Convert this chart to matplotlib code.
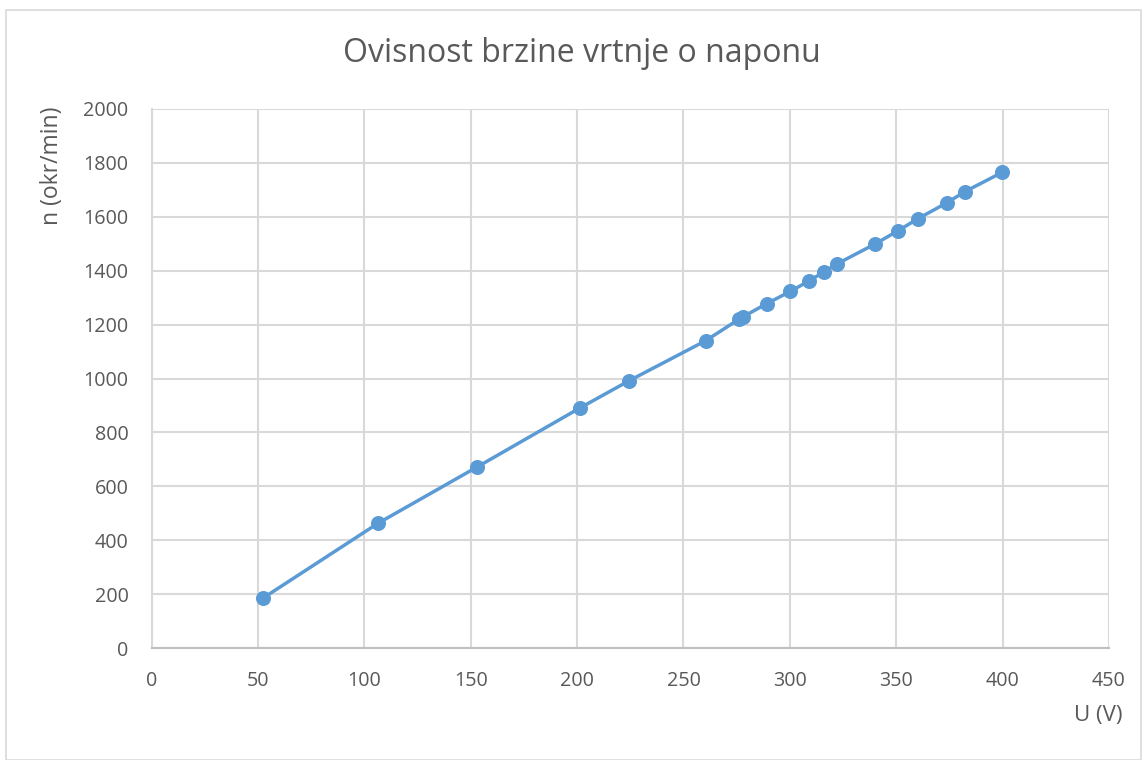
import matplotlib
matplotlib.use("Agg")
import matplotlib.pyplot as plt
from matplotlib.patches import Rectangle

# Measured motor speed vs. supply voltage
napon_V = [52.2, 106.5, 153.1, 201.2, 224.3, 260.4, 276.1, 278.0, 289.2, 300.2,
           309.0, 315.9, 322.1, 339.8, 350.8, 360.2, 373.8, 382.2, 399.8]
brzina_okr_min = [184, 463, 672, 890, 991, 1140, 1220, 1229, 1278, 1323,
                  1362, 1395, 1425, 1498, 1548, 1593, 1652, 1693, 1765]

x_ticks = list(range(0, 451, 50))
y_ticks = list(range(0, 2001, 200))

plt.rcParams['font.family'] = ['Open Sans', 'DejaVu Sans']
text_col = '#595959'
grid_col = '#D9D9D9'
line_col = '#5B9BD5'

W, H = 1144, 760
fig = plt.figure(figsize=(W / 100, H / 100), dpi=100)

# outer chart border
fig.patches.append(Rectangle((6 / W, 0), (W - 9) / W, (H - 10) / H,
                             transform=fig.transFigure, fill=False,
                             edgecolor='#D9D9D9', linewidth=1.2))

left, right, top, bottom = 151.5, 1109, 109, 648
ax = fig.add_axes([left / W, 1 - bottom / H, (right - left) / W, (bottom - top) / H])

ax.plot(napon_V, brzina_okr_min, color=line_col, linewidth=2.5,
        marker='o', markersize=9.8, markerfacecolor=line_col,
        markeredgecolor=line_col, zorder=3)

ax.set_xlim(0, 450)
ax.set_ylim(0, 2000)
ax.set_xticks(x_ticks)
ax.set_yticks(y_ticks)
ax.grid(True, color=grid_col, linewidth=1.5)
ax.set_axisbelow(True)
for s in ['top', 'right']:
    ax.spines[s].set_visible(False)
ax.spines['left'].set_color(grid_col)
ax.spines['left'].set_linewidth(1.5)
ax.spines['bottom'].set_color('#BFBFBF')
ax.spines['bottom'].set_linewidth(1.5)
ax.tick_params(axis='both', length=0, labelsize=14.2, labelcolor=text_col)
ax.tick_params(axis='x', pad=16.5)
ax.tick_params(axis='y', pad=16.5)

fig.text(582 / W, 1 - 54 / H, 'Ovisnost brzine vrtnje o naponu',
         ha='center', va='center', fontsize=23, color=text_col)
fig.text(1098 / W, 1 - 716 / H, 'U (V)', ha='center', va='center',
         fontsize=16, color=text_col)
fig.text(52 / W, 1 - 166 / H, 'n (okr/min)', ha='center', va='center',
         rotation=90, fontsize=16.5, color=text_col)

fig.savefig('out.png', dpi=100, facecolor='white')
